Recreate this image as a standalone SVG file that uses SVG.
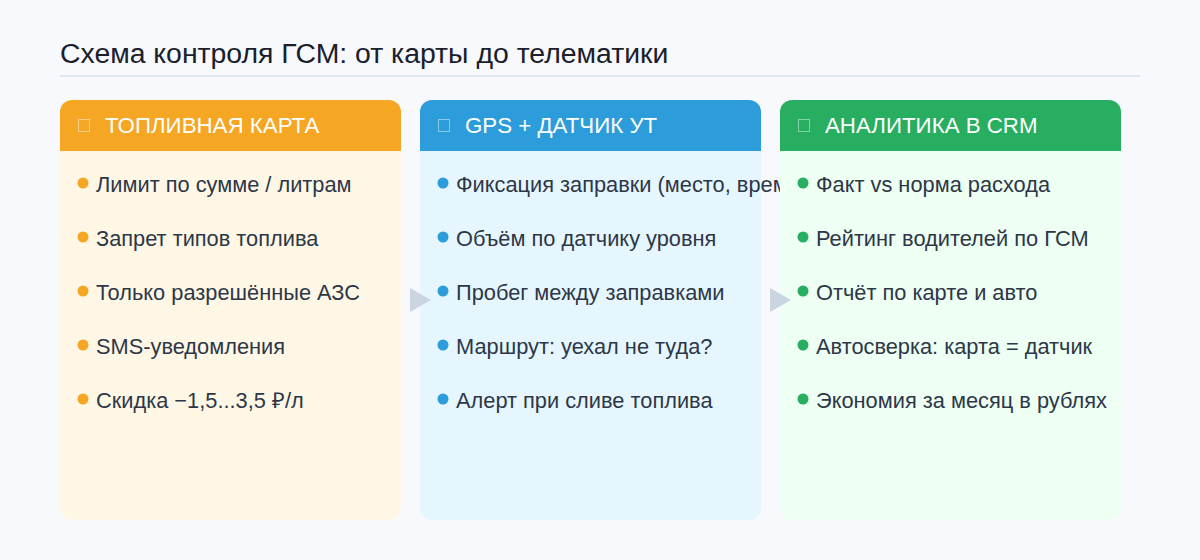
<svg xmlns="http://www.w3.org/2000/svg" width="1200" height="560" viewBox="0 0 1200 560">
<style>
.title{font-family:"Liberation Sans",Arial,sans-serif;font-size:28.4px;fill:#1a202c}
.hdr{font-family:"Liberation Sans",Arial,sans-serif;font-size:22.3px;fill:#ffffff}
.ico{fill:none;stroke:#ffffff;stroke-opacity:0.45;stroke-width:1}
.item{font-family:"Liberation Sans",Arial,sans-serif;font-size:21.8px;fill:#2d3748}
.arrow{fill:#cbd5e1}
</style>
<rect width="1200" height="560" fill="#f7f9fd"/>
<text class="title" x="60" y="63">Схема контроля ГСМ: от карты до телематики</text>
<rect x="60" y="75" width="1080" height="2" fill="#e2e8f0"/>
<g id="card-fuel">
<rect x="60" y="100" width="341" height="420" rx="12" fill="#fff7e6"/>
<path d="M60 151V112a12 12 0 0 1 12-12H389a12 12 0 0 1 12 12V151Z" fill="#f5a623"/>
<rect class="ico" x="78.5" y="119.5" width="11" height="12"/>
<text class="hdr" x="105" y="133">ТОПЛИВНАЯ КАРТА</text>
<g fill="#f5a623"><circle cx="83" cy="183" r="5.5"/><circle cx="83" cy="237" r="5.5"/><circle cx="83" cy="291" r="5.5"/><circle cx="83" cy="345" r="5.5"/><circle cx="83" cy="399" r="5.5"/></g>
<text class="item" x="96" y="192">Лимит по сумме / литрам</text>
<text class="item" x="96" y="246">Запрет типов топлива</text>
<text class="item" x="96" y="300">Только разрешённые АЗС</text>
<text class="item" x="96" y="354">SMS-уведомления</text>
<text class="item" x="96" y="408">Скидка −1,5...3,5 ₽/л</text>
</g>
<g id="card-gps">
<rect x="420" y="100" width="341" height="420" rx="12" fill="#e6f6ff"/>
<path d="M420 151V112a12 12 0 0 1 12-12H749a12 12 0 0 1 12 12V151Z" fill="#2d9cdb"/>
<rect class="ico" x="438.5" y="119.5" width="11" height="12"/>
<text class="hdr" x="465" y="133">GPS + ДАТЧИК УТ</text>
<g fill="#2d9cdb"><circle cx="443" cy="183" r="5.5"/><circle cx="443" cy="237" r="5.5"/><circle cx="443" cy="291" r="5.5"/><circle cx="443" cy="345" r="5.5"/><circle cx="443" cy="399" r="5.5"/></g>
<text class="item" x="456" y="192">Фиксация заправки (место, время)</text>
<text class="item" x="456" y="246">Объём по датчику уровня</text>
<text class="item" x="456" y="300">Пробег между заправками</text>
<text class="item" x="456" y="354">Маршрут: уехал не туда?</text>
<text class="item" x="456" y="408">Алерт при сливе топлива</text>
</g>
<g id="card-crm">
<rect x="780" y="100" width="341" height="420" rx="12" fill="#eefff3"/>
<path d="M780 151V112a12 12 0 0 1 12-12H1109a12 12 0 0 1 12 12V151Z" fill="#27ae60"/>
<rect class="ico" x="798.5" y="119.5" width="11" height="12"/>
<text class="hdr" x="825" y="133">АНАЛИТИКА В CRM</text>
<g fill="#27ae60"><circle cx="803" cy="183" r="5.5"/><circle cx="803" cy="237" r="5.5"/><circle cx="803" cy="291" r="5.5"/><circle cx="803" cy="345" r="5.5"/><circle cx="803" cy="399" r="5.5"/></g>
<text class="item" x="816" y="192">Факт vs норма расхода</text>
<text class="item" x="816" y="246">Рейтинг водителей по ГСМ</text>
<text class="item" x="816" y="300">Отчёт по карте и авто</text>
<text class="item" x="816" y="354">Автосверка: карта = датчик</text>
<text class="item" x="816" y="408">Экономия за месяц в рублях</text>
</g>
<g id="connectors">
<path class="arrow" d="M410 288L431 300L410 312Z"/>
<path class="arrow" d="M770 288L791 300L770 312Z"/>
</g>
</svg>
